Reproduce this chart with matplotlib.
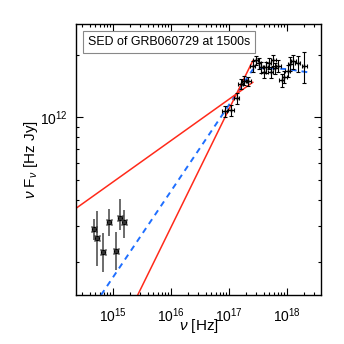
import matplotlib
matplotlib.use("Agg")
from matplotlib import pyplot as plt
from matplotlib.ticker import LogLocator, NullFormatter
import numpy as np

plt.rcParams["font.family"] = ["Liberation Sans", "DejaVu Sans"]
plt.rcParams["mathtext.fontset"] = "custom"
plt.rcParams["mathtext.rm"] = "Liberation Sans"
plt.rcParams["mathtext.it"] = "Liberation Sans:italic"
plt.rcParams["mathtext.bf"] = "Liberation Sans:bold"

# Optical / UV points (Hz, Hz Jy)
opt_nu = [4.7e14, 5.45e14, 6.8e14, 8.65e14, 1.14e15, 1.34e15, 1.57e15]
opt_f = [2.89e11, 2.61e11, 2.23e11, 3.13e11, 2.26e11, 3.27e11, 3.13e11]
opt_lo = [2.57e11, 1.91e11, 1.79e11, 2.69e11, 1.83e11, 2.87e11, 2.62e11]
opt_hi = [3.24e11, 3.52e11, 2.77e11, 3.61e11, 2.80e11, 4.04e11, 3.59e11]

# X-ray points
xr_nu = [8.65e16, 1.10e17, 1.39e17, 1.63e17, 1.86e17, 2.18e17, 2.59e17,
         2.96e17, 3.29e17, 3.66e17, 4.01e17, 4.40e17, 4.90e17, 5.30e17,
         5.89e17, 6.38e17, 7.19e17, 8.21e17, 9.12e17, 1.04e18, 1.16e18,
         1.30e18, 1.55e18, 2.02e18]
xr_f = [1.07e12, 1.08e12, 1.24e12, 1.45e12, 1.50e12, 1.49e12, 1.77e12,
        1.89e12, 1.82e12, 1.74e12, 1.65e12, 1.75e12, 1.82e12, 1.65e12,
        1.89e12, 1.73e12, 1.77e12, 1.51e12, 1.57e12, 1.68e12, 1.81e12,
        1.86e12, 1.82e12, 1.77e12]
xr_ferr = [0.06, 0.06, 0.06, 0.06, 0.05, 0.05, 0.06, 0.05, 0.06, 0.06,
           0.06, 0.06, 0.06, 0.06, 0.06, 0.06, 0.07, 0.07, 0.07, 0.07,
           0.08, 0.08, 0.09, 0.17]
xr_nuerr = 0.10

# Model lines
blue_nu = [6.3e14, 2.6e17, 3.3e17, 1.0e18, 2.3e18]
blue_f = [1.39e11, 1.70e12, 1.73e12, 1.71e12, 1.65e12]
red1_nu = [2.33e14, 2.6e17]
red1_f = [3.64e11, 1.476e12]
red2_nu = [2.7e15, 2.6e17]
red2_f = [1.39e11, 1.875e12]

fig = plt.figure(figsize=(3.44, 3.44), dpi=100)
ax = fig.add_axes([76 / 344, 49 / 344, 245 / 344, 271 / 344])

# Model curves
ax.plot(blue_nu, blue_f, color="#1f6fff", linestyle=(0, (3, 2.5)), lw=1.4)
ax.plot(red1_nu, red1_f, color="#ff2a1a", lw=1.1)
ax.plot(red2_nu, red2_f, color="#ff2a1a", lw=1.1)

# Optical data
opt_f_a = np.array(opt_f)
yerr = [opt_f_a - np.array(opt_lo), np.array(opt_hi) - opt_f_a]
ax.errorbar(opt_nu, opt_f, yerr=yerr, fmt="none", ecolor="#444444",
            elinewidth=1.1, capsize=0)
ax.plot(opt_nu, opt_f, "s", color="black", ms=3.2)
ax.plot(opt_nu, opt_f, "x", color="#333333", ms=4.5, mew=1.0)

# X-ray data
xr_nu_a = np.array(xr_nu)
xr_f_a = np.array(xr_f)
ax.errorbar(xr_nu_a, xr_f_a,
            xerr=xr_nu_a * xr_nuerr,
            yerr=xr_f_a * np.array(xr_ferr),
            fmt="+", color="black", ms=3, elinewidth=0.8, capsize=1.5,
            capthick=0.8)

ax.set_xscale("log")
ax.set_yscale("log")
ax.set_xlim(2.33e14, 3.9e18)
ax.set_ylim(1.39e11, 2.82e12)

ax.xaxis.set_major_locator(LogLocator(base=10, numticks=10))
ax.xaxis.set_minor_locator(LogLocator(base=10, subs=np.arange(2, 10), numticks=20))
ax.yaxis.set_major_locator(LogLocator(base=10, numticks=10))
ax.yaxis.set_minor_locator(LogLocator(base=10, subs=np.arange(2, 10), numticks=20))
ax.yaxis.set_minor_formatter(NullFormatter())
ax.xaxis.set_minor_formatter(NullFormatter())

ax.tick_params(which="both", direction="in", top=True, right=True,
               labelsize=10, width=0.8)
ax.tick_params(axis="x", which="major", pad=8)
ax.tick_params(axis="y", which="major", pad=6)
ax.tick_params(which="major", length=5)
ax.tick_params(which="minor", length=2.5)
for s in ax.spines.values():
    s.set_linewidth(1.0)

ax.set_xlabel(r"$\nu$ [Hz]", fontsize=11)
ax.set_ylabel(r"$\nu$ F$_{\nu}$ [Hz Jy]", fontsize=11)
ax.xaxis.set_label_coords(0.5, -0.08)
ax.yaxis.set_label_coords(-0.145, 0.5)

ax.text(0.05, 0.932, "SED of GRB060729 at 1500s", transform=ax.transAxes,
        fontsize=8.9, va="center", ha="left",
        bbox=dict(boxstyle="square,pad=0.4", fc="white", ec="#888888", lw=0.8))

fig.savefig("out.png", dpi=100)
